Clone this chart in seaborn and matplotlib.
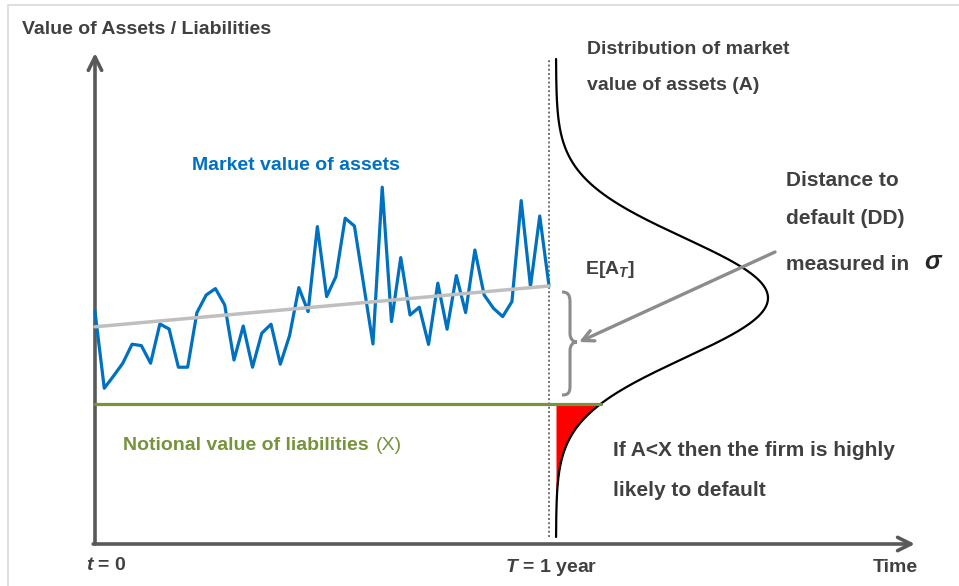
import numpy as np
import matplotlib.pyplot as plt
import seaborn as sns
from matplotlib.path import Path
from matplotlib.patches import PathPatch

# market value of assets over one year (arbitrary units), liabilities X = 100
n_steps = 50
time = np.linspace(0, 1, n_steps)
assets = [146.2, 107.9, 114.0, 120.4, 129.9, 129.2, 120.4, 140.0, 137.5, 118.4,
          118.4, 145.7, 154.5, 157.7, 149.5, 122.0, 139.0, 118.4, 135.4, 139.9,
          119.9, 134.2, 158.2, 146.2, 188.7, 153.7, 163.7, 192.9, 189.0, 159.5,
          130.0, 208.4, 141.2, 173.2, 144.5, 148.4, 129.8, 160.4, 137.4, 164.2,
          145.7, 177.0, 154.5, 147.9, 143.7, 151.2, 201.7, 158.7, 194.0, 159.0]
trend_time = [0.0, 1.0]
trend_value = [138.6, 159.0]
liability = 100.0

# distribution of A at T (drawn sideways)
mu_T = 153.0
sigma_T = 30.0
dist_base = 1.0154
dist_peak = 0.467
dist_lo, dist_hi = 33.5, 272.5

dark = '#404040'
blue = '#0070c0'
green = '#77933c'
axis_col = '#595959'
arrow_col = '#8c8c8c'

sns.set_theme(style='white')
plt.rcParams['font.family'] = ['Liberation Sans', 'DejaVu Sans']
plt.rcParams['mathtext.fontset'] = 'custom'
plt.rcParams['mathtext.rm'] = 'Liberation Sans:bold'
plt.rcParams['mathtext.it'] = 'Liberation Sans:italic:bold'
plt.rcParams['mathtext.bf'] = 'Liberation Sans:bold'

fig = plt.figure(figsize=(9.59, 5.86), dpi=100)
ax = fig.add_axes([0, 0, 1, 1])
ax.set_xlim(-95 / 454, 864 / 454)
ax.set_ylim(9, 302)
ax.axis('off')


def px(xp, yp):
    # picture pixel -> data units
    return (xp - 95) / 454, 100 + (404 - yp) / 2


# frame of the slide
ax.plot([0.0083, 0.0083, 1], [0, 0.9915, 0.9915], transform=ax.transAxes,
        color='#d9d9d9', lw=1.2, clip_on=False)

# axes with arrow heads
arr = dict(arrowstyle='->', color=axis_col, lw=2.6, mutation_scale=24,
           shrinkA=0, shrinkB=0)
ax.annotate('', xy=(1.806, 30), xytext=(-0.004, 30), arrowprops=arr)
ax.annotate('', xy=(0, 275.5), xytext=(0, 30), arrowprops=arr)

# asset path and trend
sns.lineplot(x=time, y=assets, color=blue, lw=2.3, ax=ax, zorder=3)
sns.lineplot(x=trend_time, y=trend_value, color='#bfbfbf', lw=2.5, ax=ax, zorder=4)

# distribution at T
v = np.linspace(dist_lo, dist_hi, 400)
dens = dist_base + dist_peak * np.exp(-0.5 * ((v - mu_T) / sigma_T) ** 2)
v_low = np.linspace(dist_lo, liability, 200)
dens_low = dist_base + dist_peak * np.exp(-0.5 * ((v_low - mu_T) / sigma_T) ** 2)
ax.fill_betweenx(v_low, dist_base, dens_low, color='#ff0000', lw=0, zorder=2)
sns.lineplot(x=dens, y=v, sort=False, estimator=None, color='black', lw=1.6,
             ax=ax, zorder=5)

# liabilities
x_cross = dist_base + dist_peak * np.exp(-0.5 * ((liability - mu_T) / sigma_T) ** 2)
sns.lineplot(x=[0, x_cross], y=[liability, liability], color=green, lw=2.3,
             ax=ax, zorder=6)

# maturity
ax.plot([1, 1], [dist_lo, dist_hi], ls=(0, (1, 1.2)), color='#707070', lw=1.4)

# brace between E[A_T] and X
pts = [(562, 292), (568, 292), (570, 295), (570, 302), (570, 333),
       (570, 339), (573, 342), (577, 342), (573, 342), (570, 345),
       (570, 351), (570, 386), (570, 393), (568, 395), (562, 395)]
codes = [Path.MOVETO, Path.CURVE4, Path.CURVE4, Path.CURVE4, Path.LINETO,
         Path.CURVE4, Path.CURVE4, Path.CURVE4, Path.CURVE4, Path.CURVE4,
         Path.CURVE4, Path.LINETO, Path.CURVE4, Path.CURVE4, Path.CURVE4]
ax.add_patch(PathPatch(Path([px(*p) for p in pts], codes), fill=False,
                       edgecolor=arrow_col, lw=2.2, zorder=5))

ax.annotate('', xy=px(579, 342), xytext=px(775, 252),
            arrowprops=dict(arrowstyle='->', color=arrow_col, lw=2.4,
                            mutation_scale=20, shrinkA=0, shrinkB=0), zorder=7)

# labels
fs = 14
fs_big = 15
ax.text(*px(22, 29), 'Value of Assets / Liabilities', color=dark, fontsize=fs,
        fontweight='bold', va='center', ha='left')
ax.text(*px(587, 50), 'Distribution of market', color=dark, fontsize=fs,
        fontweight='bold', va='center', ha='left')
ax.text(*px(587, 86), 'value of assets (A)', color=dark, fontsize=fs,
        fontweight='bold', va='center', ha='left')
ax.text(*px(296, 165), 'Market value of assets', color=blue, fontsize=fs,
        fontweight='bold', va='center', ha='center')
ax.text(*px(786, 180), 'Distance to', color=dark, fontsize=fs_big,
        fontweight='bold', va='center', ha='left')
ax.text(*px(786, 218), 'default (DD)', color=dark, fontsize=fs_big,
        fontweight='bold', va='center', ha='left')
ax.text(*px(786, 264), 'measured in ', color=dark, fontsize=fs_big,
        fontweight='bold', va='center', ha='left')
ax.text(*px(924, 262), r'$\sigma$', color='#262626', fontsize=fs_big + 3,
        va='center', ha='left')
ax.text(*px(585, 270), r'E[A$_T$]', color=dark, fontsize=fs,
        fontweight='bold', va='center', ha='left')
ax.text(*px(123, 446), 'Notional value of liabilities', color=green, fontsize=fs,
        fontweight='bold', va='center', ha='left')
ax.text(*px(376, 446), '(X)', color=green, fontsize=fs, va='center', ha='left')
ax.text(*px(613, 450), 'If A<X then the firm is highly', color=dark, fontsize=fs_big,
        fontweight='bold', va='center', ha='left')
ax.text(*px(613, 490), 'likely to default', color=dark, fontsize=fs_big,
        fontweight='bold', va='center', ha='left')
ax.text(*px(106, 566), r'$t$ = 0', color=dark, fontsize=fs,
        fontweight='bold', va='center', ha='center')
ax.text(*px(551, 568), r'$T$ = 1 year', color=dark, fontsize=fs,
        fontweight='bold', va='center', ha='center')
ax.text(*px(895, 568), 'Time', color=dark, fontsize=fs,
        fontweight='bold', va='center', ha='center')

fig.savefig('out.png', dpi=100)
